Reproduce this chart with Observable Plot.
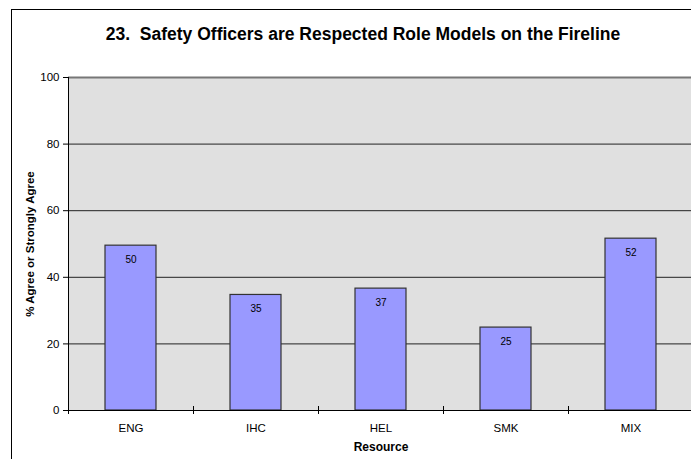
<!DOCTYPE html>
<html>
<head>
<meta charset="utf-8">
<script src="https://cdn.jsdelivr.net/npm/d3@7"></script>
<script src="https://cdn.jsdelivr.net/npm/@observablehq/plot@0.6"></script>
<style>
  html, body { margin: 0; padding: 0; background: #fff; }
  #wrap { position: relative; width: 691px; height: 459px; overflow: hidden; font-family: "Liberation Sans", Arial, sans-serif; }
  #border { position: absolute; left: 11px; top: 9px; width: 800px; height: 600px; border: 1px solid #000; box-sizing: border-box; pointer-events: none; }
  #title { position: absolute; left: 363px; top: 24px; transform: translateX(-50%); white-space: pre; font-weight: bold; font-size: 17.5px; color: #000; }
  #chart { position: absolute; left: 0; top: 0; }
</style>
</head>
<body>
<div id="wrap">
  <div id="chart"></div>
  <div id="border"></div>
  <div id="title"></div>
</div>
<script>
const titleText = "23.  Safety Officers are Respected Role Models on the Fireline";
const yLabel = "% Agree or Strongly Agree";
const xLabel = "Resource";
const categories = ["ENG", "IHC", "HEL", "SMK", "MIX"];
const values = [49.5, 34.7, 36.6, 24.9, 51.6];
const yTicks = [0, 20, 40, 60, 80, 100];

document.getElementById("title").textContent = titleText;

const data = categories.map((c, i) => ({resource: c, pct: values[i]}));

const chart = Plot.plot({
  width: 691,
  height: 459,
  marginLeft: 68,
  marginRight: -2,
  marginTop: 77,
  marginBottom: 49,
  style: {fontFamily: "'Liberation Sans', Arial, sans-serif", fontSize: "11px", color: "#000", background: "transparent", overflow: "visible"},
  x: {domain: categories, padding: 0, label: null},
  y: {domain: [0, 100], label: null},
  marks: [
    Plot.frame({fill: "#e0e0e0", stroke: null}),
    Plot.gridY(yTicks, {stroke: "#222", strokeOpacity: 1, strokeWidth: 1}),
    Plot.ruleY([100], {stroke: "#777", strokeWidth: 2}),
    Plot.barY(data, {x: "resource", y: "pct", fill: "#9999ff", stroke: "#333", strokeWidth: 1.2, insetLeft: 37, insetRight: 37}),
    Plot.text(data, {x: "resource", y: "pct", text: d => String(Math.round(d.pct)), dy: 14, fontSize: 10, fill: "#000"}),
    Plot.ruleY([0], {stroke: "#000", strokeWidth: 1}),
    Plot.ruleX([categories[0]], {dx: -62.5, stroke: "#000", strokeWidth: 1}),
    Plot.ruleX(categories, {dx: -62.5, insetTop: 329, insetBottom: -4, stroke: "#000"}),
    Plot.axisY(yTicks, {tickSize: 5, tickPadding: 4, label: null, fontSize: 11.5}),
    Plot.axisX({tickSize: 0, tickPadding: 13, label: null, fontSize: 11.5}),
    Plot.text([yLabel], {frameAnchor: "left", textAnchor: "middle", rotate: -90, dx: -38, fontWeight: "bold", fontSize: 11.5}),
    Plot.text([xLabel], {frameAnchor: "bottom", textAnchor: "middle", dy: 40, fontWeight: "bold", fontSize: 12})
  ]
});
document.getElementById("chart").appendChild(chart);
</script>
</body>
</html>
